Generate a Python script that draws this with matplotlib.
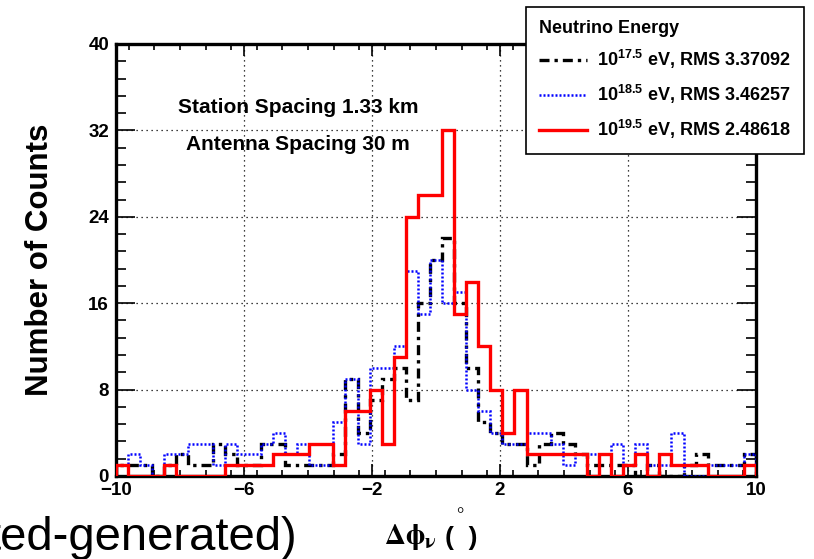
import numpy as np
import matplotlib.pyplot as plt
from matplotlib.ticker import MultipleLocator

# 53 bins between -10 and 10 deg
edges = np.linspace(-10, 10, 54)

counts_175 = [1, 1, 1, 0, 1, 2, 1, 1, 3, 2, 1, 1, 3, 3, 1, 1, 1, 1, 2, 9,
              4, 7, 9, 10, 7, 16, 20, 22, 16, 10, 5, 4, 3, 3, 1, 3, 4, 3, 2, 1,
              1, 1, 1, 0, 1, 0, 0, 1, 2, 1, 1, 1, 2]
counts_185 = [1, 2, 1, 0, 2, 2, 3, 3, 1, 3, 2, 2, 3, 4, 2, 3, 1, 1, 5, 9,
              3, 10, 10, 12, 19, 15, 20, 16, 17, 8, 6, 4, 3, 3, 4, 4, 3, 1, 2, 2,
              2, 3, 1, 3, 1, 1, 4, 0, 0, 1, 1, 1, 2]
counts_195 = [1, 0, 0, 0, 1, 0, 0, 0, 0, 1, 1, 1, 1, 2, 2, 2, 3, 3, 1, 6,
              6, 8, 3, 11, 24, 26, 26, 32, 15, 18, 12, 8, 4, 8, 2, 2, 2, 2, 2, 0,
              2, 0, 1, 2, 0, 2, 1, 1, 1, 0, 0, 0, 1]

energies = ['17.5', '18.5', '19.5']
rms = ['3.37092', '3.46257', '2.48618']

plt.rcParams['font.family'] = 'Liberation Sans'
plt.rcParams['font.weight'] = 'bold'
plt.rcParams['mathtext.fontset'] = 'custom'
plt.rcParams['mathtext.rm'] = 'Liberation Sans:bold'
plt.rcParams['mathtext.it'] = 'Liberation Sans:bold'
plt.rcParams['mathtext.bf'] = 'Liberation Sans:bold'

fig = plt.figure(figsize=(8.14, 5.59), dpi=100)
ax = fig.add_axes([116 / 814, 1 - 476 / 559, 640 / 814, 432 / 559])

h1 = ax.stairs(counts_175, edges, color='black', lw=2.4,
               linestyle=(0, (3, 1.5, 1, 1.5)), zorder=3)
h2 = ax.stairs(counts_185, edges, color='blue', lw=1.8,
               linestyle=(0, (0.8, 0.8)), zorder=3)
h3 = ax.stairs(counts_195, edges, color='red', lw=2.4, zorder=4)

ax.set_xlim(-10, 10)
ax.set_ylim(0, 40)
ax.xaxis.set_minor_locator(MultipleLocator(0.8))
ax.yaxis.set_major_locator(MultipleLocator(8))
ax.yaxis.set_minor_locator(MultipleLocator(1.6))
ax.set_xticks([-10, -6, -2, 2, 6, 10])
ax.grid(True, which='major', color='black', linestyle=(0, (1, 3)), lw=0.9)

for s in ax.spines.values():
    s.set_linewidth(2.4)
ax.tick_params(axis='both', which='both', direction='in', top=True, right=True,
               width=1.2, labelsize=13.5)
ax.tick_params(axis='x', which='major', length=8.6, pad=4)
ax.tick_params(axis='x', which='minor', length=4.3)
ax.tick_params(axis='y', which='major', length=14, pad=5)
ax.tick_params(axis='y', which='minor', length=7)

ax.set_ylabel('Number of Counts', fontsize=22.5, fontweight='bold')
ax.yaxis.set_label_coords(-0.095, 0.5)

# x axis title, ROOT style: delta phi_nu ( deg )
fig.text(410 / 814, 1 - 537 / 559, r'$\Delta\mathrm{\phi}_{\mathrm{\nu}}$',
         ha='center', va='center', fontsize=21, fontweight='normal',
         math_fontfamily='stix')
fig.text(461 / 814, 1 - 538 / 559, '(  )', ha='center', va='center',
         fontsize=19)
fig.text(460 / 814, 1 - 516 / 559, '°', ha='center', va='center',
         fontsize=13, fontweight='normal', family='Liberation Serif')

fig.text(298 / 814, 1 - 108 / 559, 'Station Spacing 1.33 km',
         ha='center', va='center', fontsize=15)
fig.text(298 / 814, 1 - 145 / 559, 'Antenna Spacing 30 m',
         ha='center', va='center', fontsize=15)

labels = [f'10$^{{{e}}}$ eV, RMS {r}' for e, r in zip(energies, rms)]
leg = fig.legend([h1, h2, h3], labels, title='Neutrino Energy',
                 loc='upper left', bbox_to_anchor=(526 / 814, 1 - 7 / 559),
                 bbox_transform=fig.transFigure, fontsize=13,
                 title_fontproperties={'weight': 'bold', 'size': 13},
                 alignment='left', frameon=True, fancybox=False, framealpha=1,
                 edgecolor='black', borderpad=0.7, handlelength=2.7,
                 handletextpad=0.55, labelspacing=0.65, borderaxespad=0)
leg.get_frame().set_linewidth(1.2)

fig.text(-0.016, 0.016, 'ted-generated)', fontsize=34, fontweight='normal')

fig.savefig('out.png', dpi=100)
